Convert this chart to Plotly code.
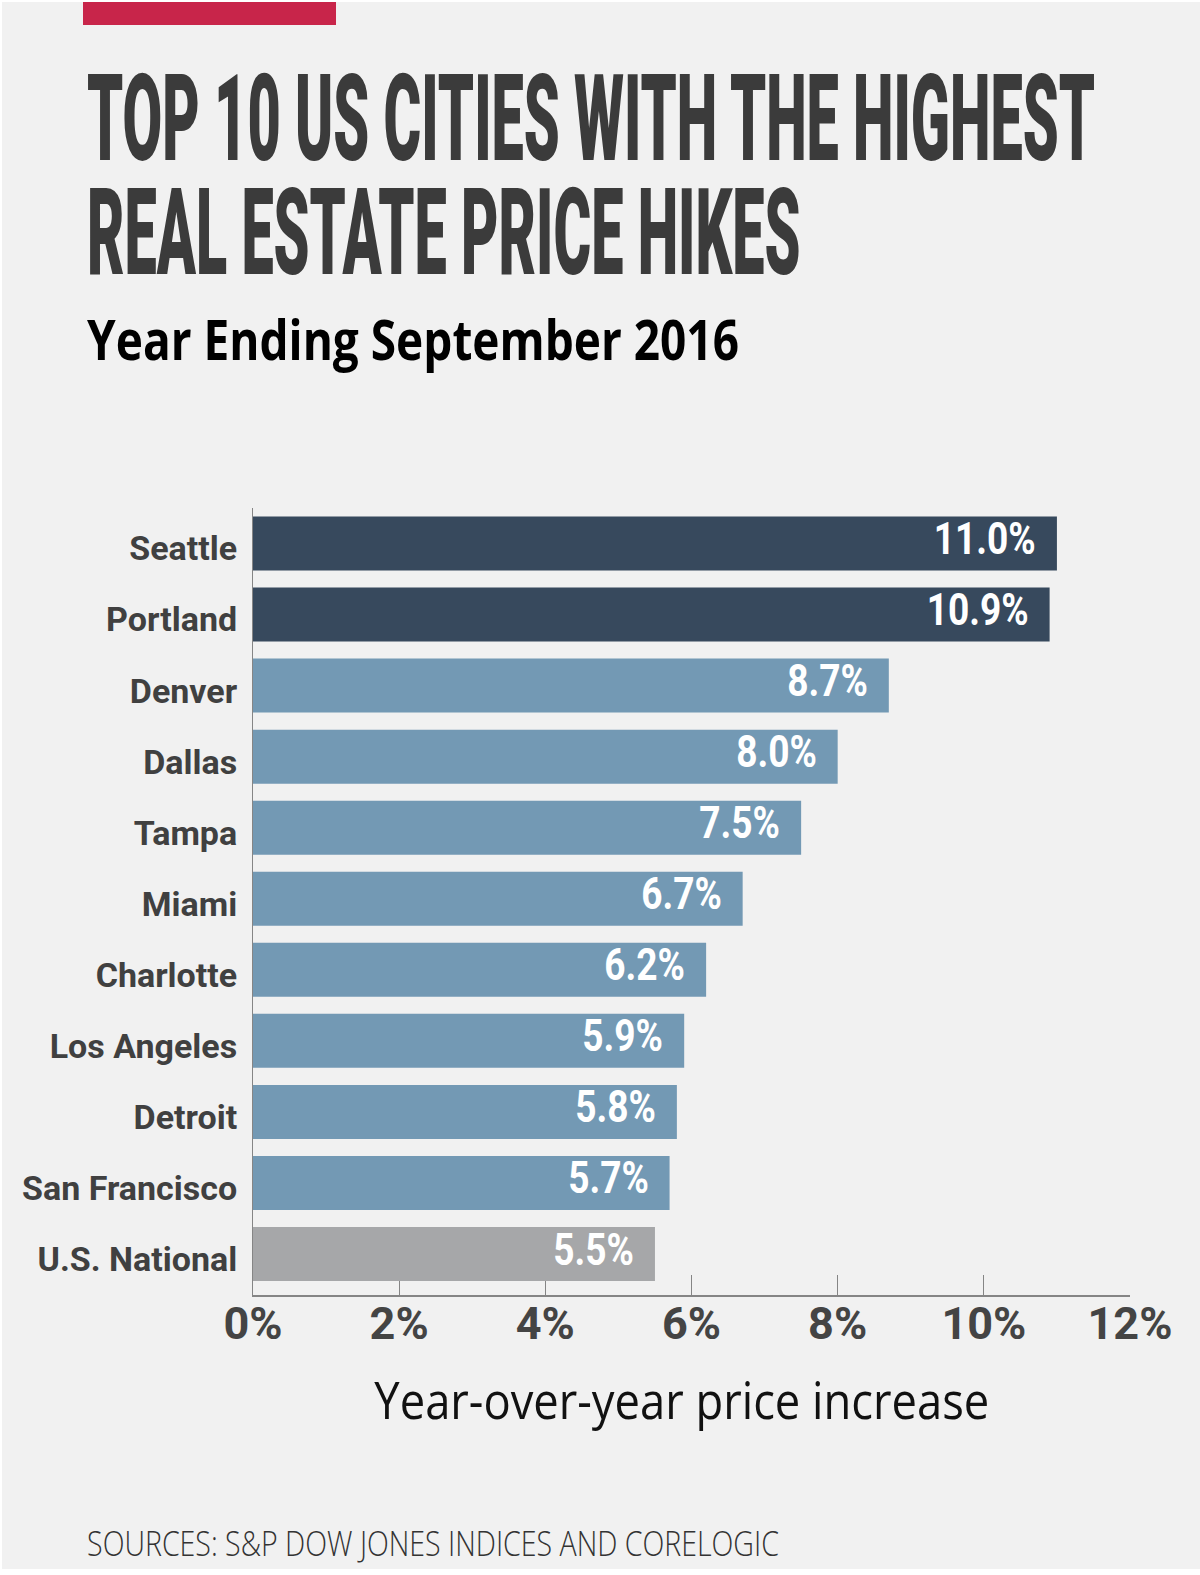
import json
import plotly.graph_objects as go

# ---------------- data ----------------
cities = ["Seattle", "Portland", "Denver", "Dallas", "Tampa", "Miami",
          "Charlotte", "Los Angeles", "Detroit", "San Francisco", "U.S. National"]
increase = [11.0, 10.9, 8.7, 8.0, 7.5, 6.7, 6.2, 5.9, 5.8, 5.7, 5.5]
bar_group = ["top", "top", "city", "city", "city", "city", "city", "city", "city", "city", "national"]
tick_values = [0, 2, 4, 6, 8, 10, 12]
tick_labels = ["0%", "2%", "4%", "6%", "8%", "10%", "12%"]

title_lines = ["TOP 10 US CITIES WITH THE HIGHEST", "REAL ESTATE PRICE HIKES"]
subtitle = "Year Ending September 2016"
x_title = "Year-over-year price increase"
source = "SOURCES: S&P DOW JONES INDICES AND CORELOGIC"

# ---------------- style ----------------
W, H = 1200, 1575
ML, MR, MT, MB = 253, 70, 508, 280
PW, PH = W - ML - MR, H - MT - MB
BG = "#f1f1f1"
group_colors = {"top": "#37495d", "city": "#7399b4", "national": "#a6a7a9"}
bar_colors = [group_colors[g] for g in bar_group]


def px_x(px):
    return (px - ML) / PW


def px_y(py):
    return (H - MB - py) / PH


fig = go.Figure()
fig.add_trace(go.Bar(
    x=increase, y=cities, orientation="h",
    marker=dict(color=bar_colors, line=dict(width=0)),
    hoverinfo="skip", showlegend=False,
))

annotations = []
groups = []

# title (two lines, tight line spacing)
t_idx = []
for line, cy in zip(title_lines, [119, 233]):
    t_idx.append(len(annotations))
    annotations.append(dict(
        text=line, xref="paper", yref="paper", x=px_x(85), y=px_y(cy),
        xanchor="left", yanchor="middle", valign="middle", height=104, showarrow=False,
        font=dict(family="Roboto", size=121, color="#3b3b3b", weight=900),
    ))
groups.append(dict(idx=t_idx, target=1008, anchor="left"))

# subtitle
groups.append(dict(idx=[len(annotations)], target=652, anchor="left"))
annotations.append(dict(
    text=subtitle, xref="paper", yref="paper", x=px_x(85), y=px_y(338),
    xanchor="left", yanchor="middle", showarrow=False,
    font=dict(family="Open Sans", size=56, color="#000000", weight=700),
))

# value labels
v_idx = []
for c, v in zip(cities, increase):
    v_idx.append(len(annotations))
    annotations.append(dict(
        text=f"{v:.1f}%", xref="x", yref="y", x=v, y=c,
        xanchor="right", yanchor="middle", xshift=-19, yshift=5, showarrow=False,
        font=dict(family="Roboto", size=45, color="#ffffff", weight=700),
    ))
groups.append(dict(idx=v_idx, target=102, anchor="right"))

# x title
groups.append(dict(idx=[len(annotations)], target=615, anchor="center"))
annotations.append(dict(
    text=x_title, xref="paper", yref="paper", x=px_x(682), y=px_y(1398),
    xanchor="center", yanchor="middle", showarrow=False,
    font=dict(family="Open Sans", size=52, color="#111111", weight=400),
))

# source
groups.append(dict(idx=[len(annotations)], target=692, anchor="left"))
annotations.append(dict(
    text=source, xref="paper", yref="paper", x=px_x(85), y=px_y(1543),
    xanchor="left", yanchor="middle", showarrow=False,
    font=dict(family="Open Sans", size=34, color="#333333", weight=300),
))

shapes = [
    # panel background with thin white frame
    dict(type="rect", xref="paper", yref="paper", layer="below",
         x0=px_x(2), x1=px_x(1200), y0=px_y(1569), y1=px_y(2),
         fillcolor=BG, line=dict(width=0)),
    # red accent bar
    dict(type="rect", xref="paper", yref="paper", layer="above",
         x0=px_x(83), x1=px_x(336), y0=px_y(25), y1=px_y(2),
         fillcolor="#c8254a", line=dict(width=0)),
]

fig.update_layout(
    width=W, height=H,
    margin=dict(l=ML, r=MR, t=MT, b=MB, pad=0),
    paper_bgcolor="#ffffff", plot_bgcolor=BG,
    bargap=0.24,
    annotations=annotations, shapes=shapes,
    xaxis=dict(
        range=[0, 12], tickvals=tick_values, ticktext=tick_labels,
        showgrid=False, zeroline=False, showline=True, linecolor="#858585", linewidth=1.5,
        ticks="inside", ticklen=20, tickwidth=1, tickcolor="#858585",
        ticklabelstandoff=-12,
        tickfont=dict(family="Roboto", size=45, color="#444444", weight=700),
        layer="below traces", fixedrange=True,
    ),
    yaxis=dict(
        categoryorder="array", categoryarray=cities, range=[10.577, -0.5],
        showgrid=False, zeroline=False, showline=True, linecolor="#858585", linewidth=1,
        ticks="", ticklabelstandoff=8, ticklabelshift=-5,
        tickfont=dict(family="Roboto", size=34, color="#404040", weight=700),
        layer="below traces", fixedrange=True,
    ),
)

post_script = """
(function(){
  document.documentElement.style.margin = '0';
  document.body.style.margin = '0';
  document.body.style.padding = '0';
  var gd = document.getElementById('{plot_id}');
  var groups = GROUPS_JSON;
  function apply(){
    groups.forEach(function(g){
      var els = g.idx.map(function(i){
        return gd.querySelector('.annotation[data-index="' + i + '"] text.annotation-text');
      });
      if (!els[0]) return;
      els.forEach(function(el){ if (el) el.removeAttribute('transform'); });
      var w0 = els[0].getBBox().width;
      if (!(w0 > 0)) return;
      var s = g.target / w0;
      els.forEach(function(el){
        if (!el) return;
        var b = el.getBBox();
        var ox = g.anchor === 'left' ? b.x : (g.anchor === 'right' ? b.x + b.width : b.x + b.width / 2);
        el.setAttribute('transform', 'translate(' + ox + ',0) scale(' + s + ',1) translate(' + (-ox) + ',0)');
      });
    });
  }
  apply();
  if (document.fonts && document.fonts.ready) { document.fonts.ready.then(apply); }
})();
""".replace("GROUPS_JSON", json.dumps(groups))

fig.write_html("out.html", config={"displayModeBar": False}, post_script=post_script)
